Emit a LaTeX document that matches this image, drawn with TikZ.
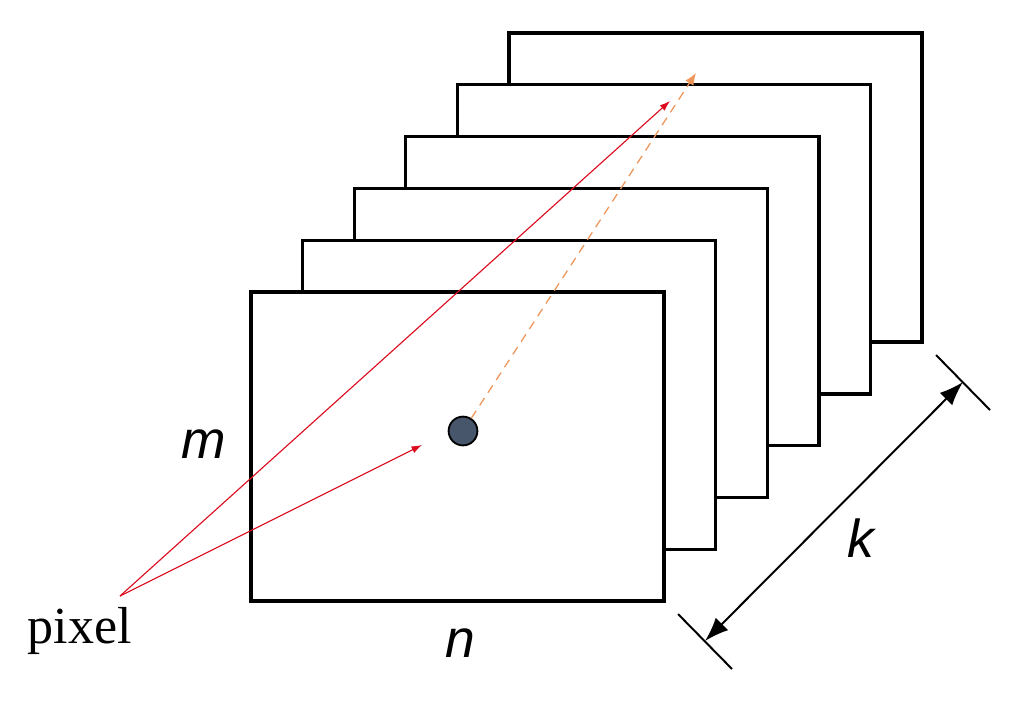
\documentclass[tikz,border=0pt]{standalone}
\usepackage{fontspec}
\setmainfont{Liberation Serif}
\setsansfont{Liberation Sans}
\usetikzlibrary{arrows.meta,positioning,calc}
\definecolor{pxred}{RGB}{222,10,30}
\definecolor{pxorange}{RGB}{238,150,90}
\definecolor{dotfill}{RGB}{72,86,108}
\begin{document}
\begin{tikzpicture}[
  x=0.025cm, y=-0.025cm,
  frame/.style={draw, fill=white, line width=2.4pt, inner sep=0pt, outer sep=0pt,
                minimum width=10.325cm, minimum height=7.725cm, anchor=north west},
  ray/.style={pxred, line width=0.8pt, -{Latex[length=2.6mm,width=1.8mm]}},
  depth/.style={pxorange, line width=0.9pt, dash pattern=on 2.2mm off 1.6mm,
                -{Latex[length=3mm,width=2.4mm]}},
  dim/.style={line width=1.4pt, {Latex[length=6mm,width=4.4mm]}-{Latex[length=6mm,width=4.4mm]}},
  tick/.style={line width=1.4pt},
  lbl/.style={font=\sffamily\itshape\fontsize{38}{38}\selectfont},
]
  \useasboundingbox (0,0) rectangle (1023,723);
  % stack of frames, back to front
  \foreach \i in {5,4,3,2,1,0}
    \node[frame] (f\i) at ({251+51.6*\i},{292-51.8*\i}) {};
  % the pixel
  \node[circle, draw, line width=1.3pt, fill=dotfill, minimum size=0.72cm, inner sep=0pt] (dot) at (463,431) {};
  \coordinate (px) at (120,596);
  \coordinate (top) at (670,101);
  \coordinate (mid) at (422,445);
  \coordinate (far) at (696,73);
  \draw[ray] (px) -- (top);
  \draw[ray] (px) -- (mid);
  \draw[depth] (dot) -- (far);
  % depth dimension k
  \coordinate (d1) at (705,641);
  \coordinate (d2) at (963,382);
  \draw[dim] (d1) -- (d2);
  \draw[tick] ($(d1)+(-27,-27)$) -- ($(d1)+(27,28)$);
  \draw[tick] ($(d2)+(-27,-27)$) -- ($(d2)+(27,28)$);
  % labels
  \node[lbl] (m) at (204,444) {m};
  \node[lbl] (n) at (460,643) {n};
  \node[lbl] (k) at (861,538) {k};
  \node[font=\fontsize{37}{37}\selectfont, anchor=base] (pixel) at (80,643) {pixel};
\end{tikzpicture}
\end{document}
